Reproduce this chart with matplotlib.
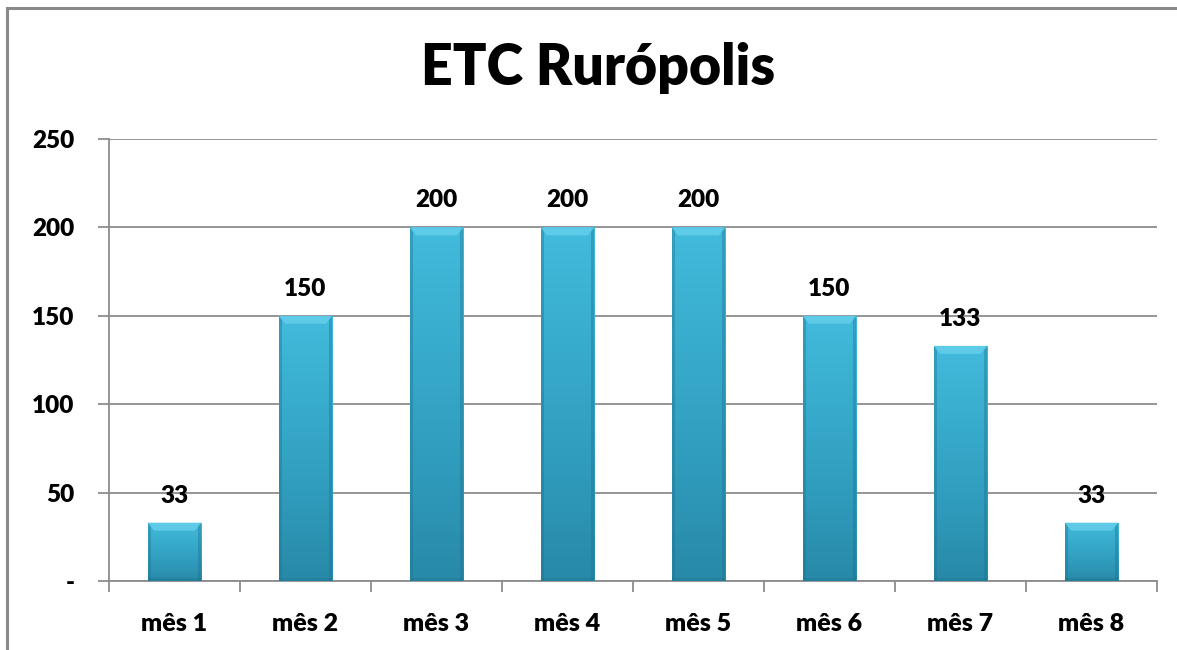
import matplotlib
matplotlib.use("Agg")
import matplotlib.pyplot as plt
import numpy as np
from matplotlib.colors import LinearSegmentedColormap
from matplotlib.patches import Rectangle

categories = ["mês 1", "mês 2", "mês 3", "mês 4", "mês 5", "mês 6", "mês 7", "mês 8"]
values = [33, 150, 200, 200, 200, 150, 133, 33]
yticks = [0, 50, 100, 150, 200, 250]
ytick_labels = ["-", "50", "100", "150", "200", "250"]
title = "ETC Rurópolis"

plt.rcParams['font.family'] = ['Lato', 'DejaVu Sans']
WEIGHT = "heavy"

W, H = 1177, 650
fig = plt.figure(figsize=(W / 100, H / 100), dpi=100)
ax = fig.add_axes([109 / W, 1 - 581 / H, (1157 - 109) / W, (581 - 139) / H])

# figure border (left and top only visible)
fig.add_artist(Rectangle((7 / W, -0.2), 1.2, 1.2 - 8 / H, transform=fig.transFigure,
                         fill=False, edgecolor="#8a8a8a", lw=2.2))

x = np.arange(len(categories))
bw = 0.41
bars = ax.bar(x, values, width=bw, color="#35a6c8", edgecolor="none", zorder=3)

cmap_v = LinearSegmentedColormap.from_list("v", ["#2889a8", "#309cbd", "#38accd", "#43bbdc"])
grad = np.linspace(0, 1, 256).reshape(-1, 1)
for i, b in enumerate(bars):
    x0, y0, w, h = b.get_x(), b.get_y(), b.get_width(), b.get_height()
    im = ax.imshow(grad, cmap=cmap_v, aspect="auto", origin="lower",
                   extent=[x0, x0 + w, y0, y0 + h], zorder=3.1, interpolation="bicubic")
    im.set_clip_path(b)
    ax.add_patch(Rectangle((x0, y0), w * 0.07, h, color="#1c7390", alpha=0.4, lw=0, zorder=3.2))
    ax.add_patch(Rectangle((x0 + w * 0.93, y0), w * 0.07, h, color="#1c7390", alpha=0.4, lw=0, zorder=3.2))
    ax.add_patch(Rectangle((x0, y0), w, 1.8, color="#1c7390", alpha=0.35, lw=0, zorder=3.2))
    bev = 4.5
    ax.add_patch(plt.Polygon([[x0, y0 + h], [x0 + w, y0 + h], [x0 + w * 0.88, y0 + h - bev], [x0 + w * 0.12, y0 + h - bev]],
                             closed=True, color="#62cdea", alpha=0.9, lw=0, zorder=3.3))
    ax.text(x0 + w / 2, h + 9, f"{values[i]}", ha="center", va="bottom",
            fontsize=17.5, fontweight=WEIGHT, zorder=4)

ax.set_xlim(-0.5, len(categories) - 0.5)
ax.set_ylim(0, 250)
ax.set_yticks(yticks)
ax.set_yticklabels(ytick_labels)
ax.set_xticks(x)
ax.set_xticklabels(categories)
ax.set_xticks(np.arange(len(categories) + 1) - 0.5, minor=True)

ax.grid(axis="y", color="#8c8c8c", lw=1.3, zorder=0)
for s in ["top", "right"]:
    ax.spines[s].set_visible(False)
for s in ["left", "bottom"]:
    ax.spines[s].set_color("#8c8c8c")
    ax.spines[s].set_linewidth(1.3)

ax.tick_params(axis="y", length=8, width=1.3, color="#8c8c8c", labelsize=17.5, pad=17)
ax.tick_params(axis="x", which="major", length=0, labelsize=18, pad=23)
ax.tick_params(axis="x", which="minor", length=8, width=1.3, color="#8c8c8c")
for lab in ax.get_yticklabels() + ax.get_xticklabels():
    lab.set_fontweight(WEIGHT)

fig.text(598 / W, 1 - 68 / H, title, ha="center", va="center", fontsize=40, fontweight=WEIGHT)

fig.savefig("out.png", dpi=100)
